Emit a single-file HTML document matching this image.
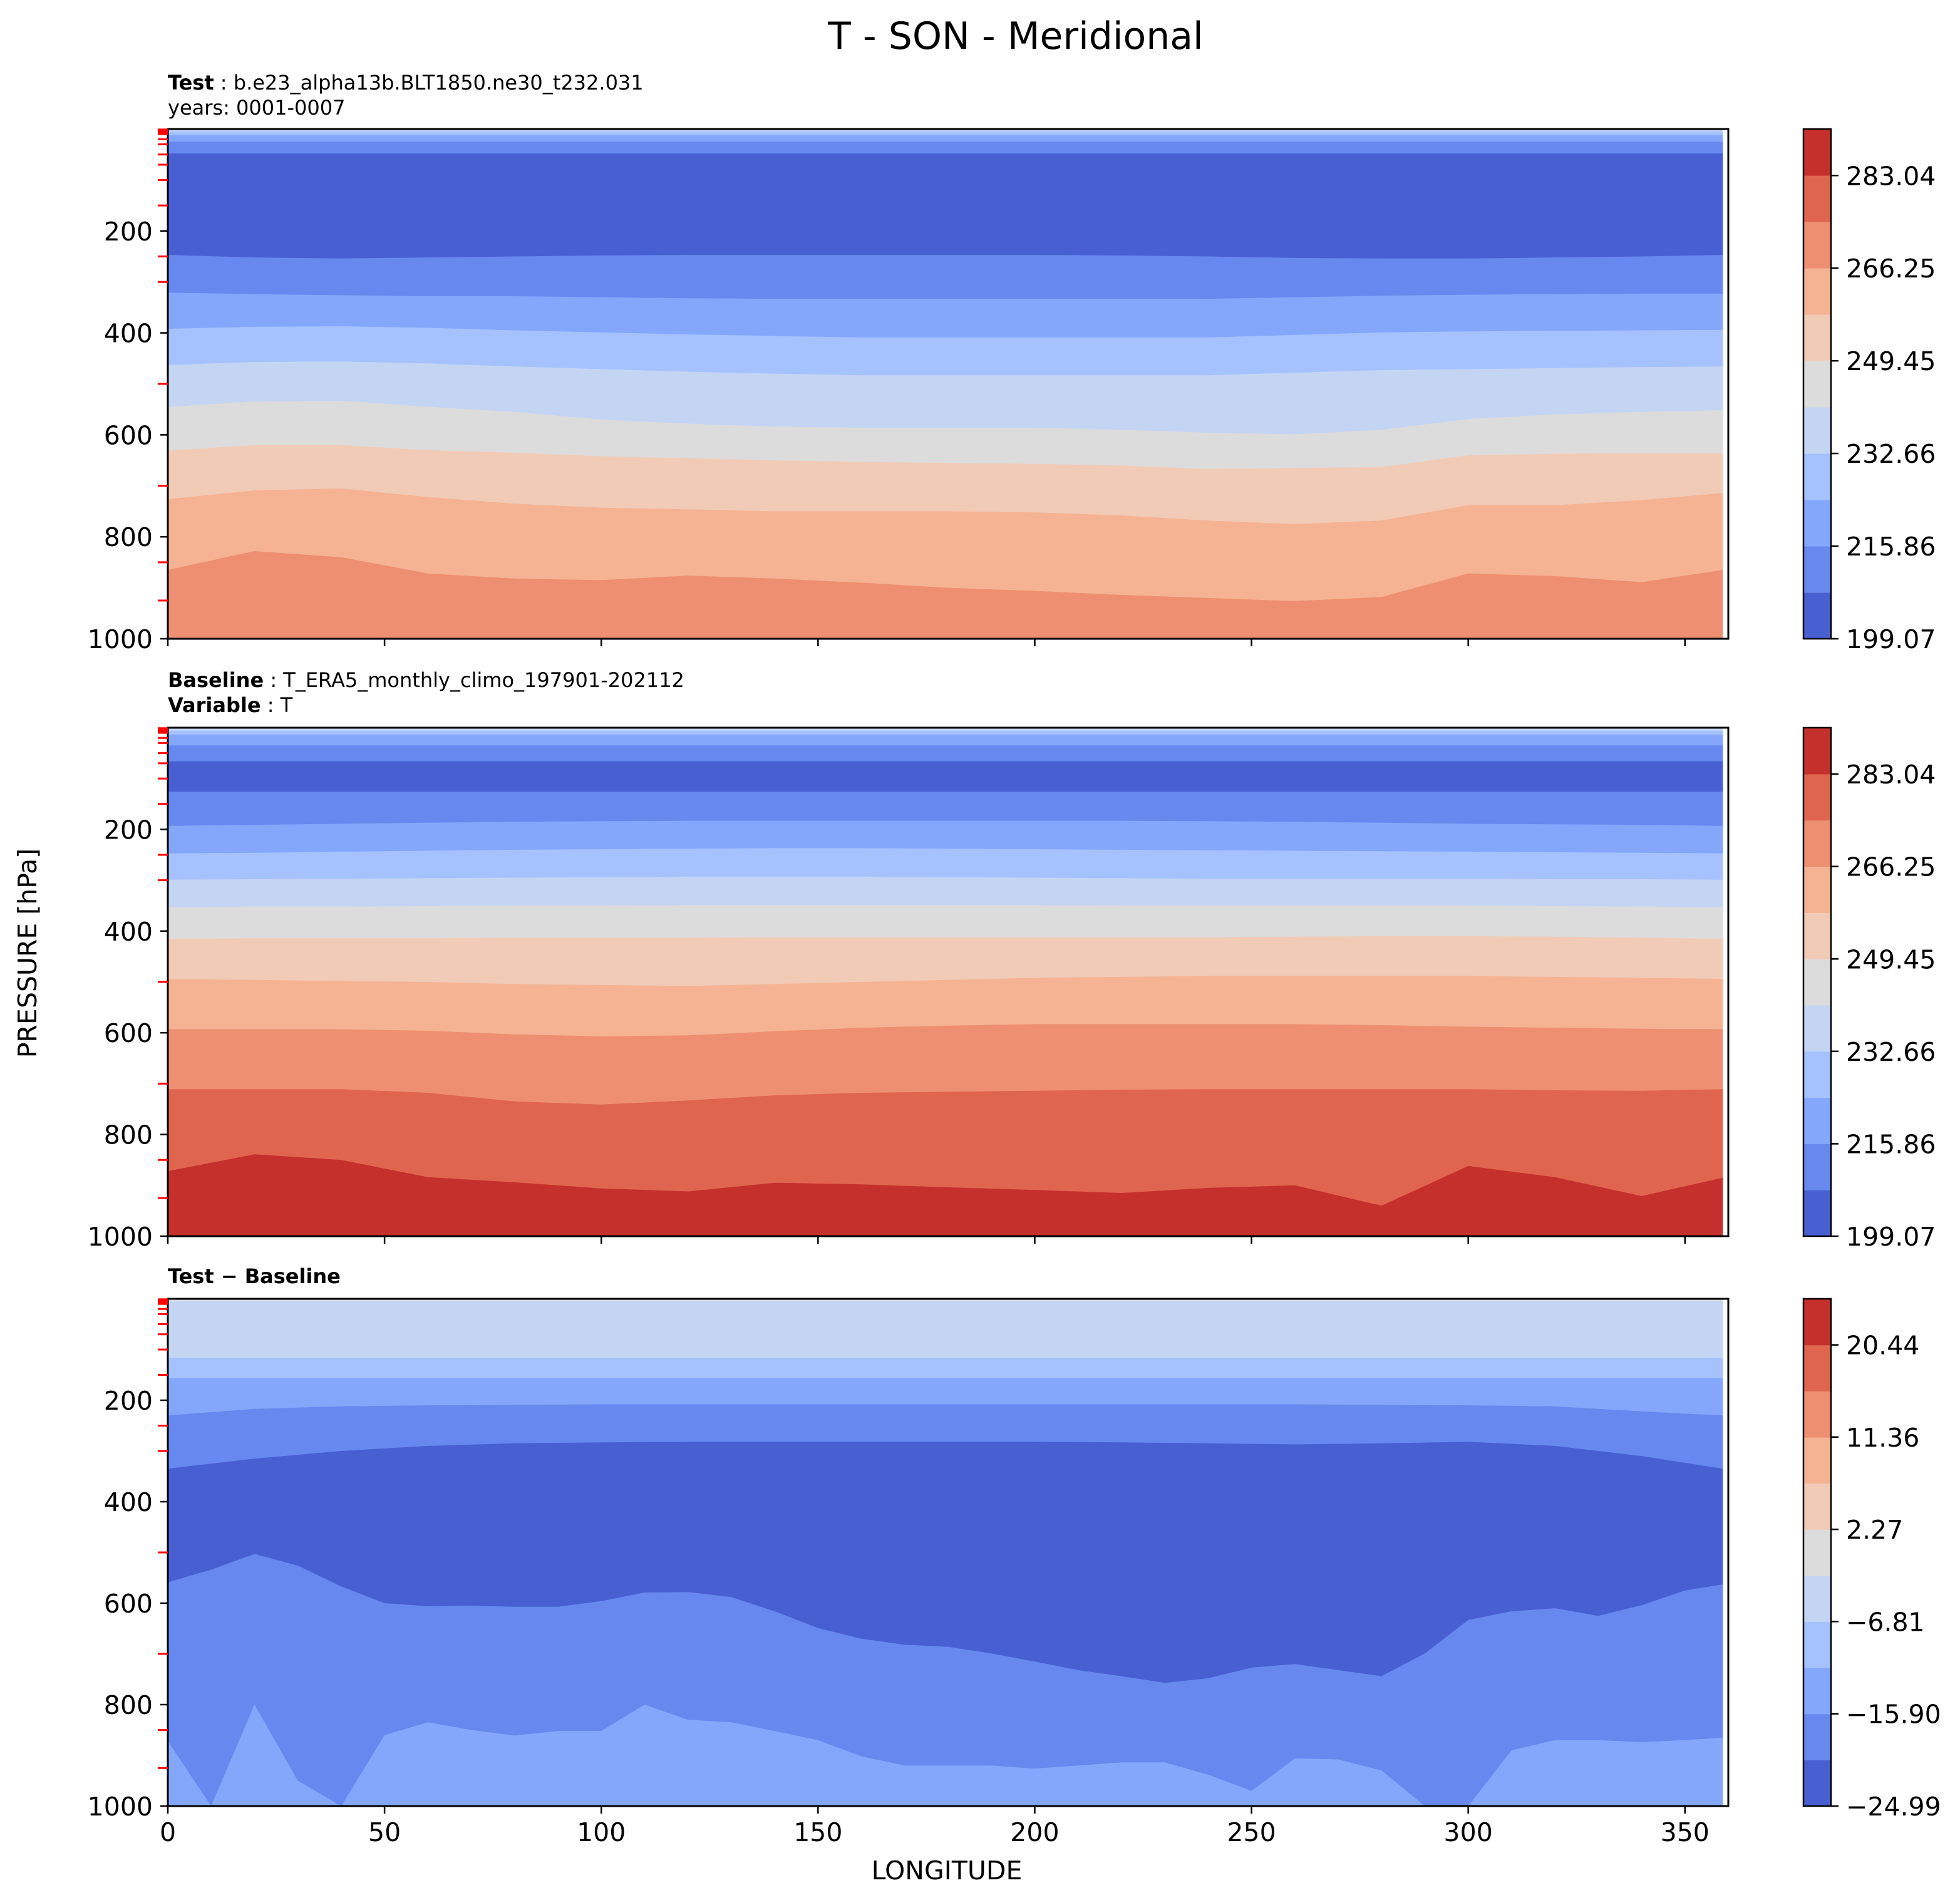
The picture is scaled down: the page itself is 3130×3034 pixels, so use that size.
<!DOCTYPE html>
<html><head><meta charset="utf-8"><style>
html,body{margin:0;padding:0;background:#fff}
svg{display:block}
text{font-family:"DejaVu Sans","Liberation Sans",sans-serif;fill:#000}
</style></head><body>
<svg id="fig" width="3130" height="3034" viewBox="0 0 3130 3034" xmlns="http://www.w3.org/2000/svg">
<text x="1622" y="78" font-size="60" text-anchor="middle">T - SON - Meridional</text>
<text x="268" y="143" font-size="32"><tspan font-weight="bold">Test</tspan> : b.e23_alpha13b.BLT1850.ne30_t232.031</text>
<text x="268" y="183" font-size="32">years: 0001-0007</text>
<text x="268" y="1097" font-size="32"><tspan font-weight="bold">Baseline</tspan> : T_ERA5_monthly_climo_197901-202112</text>
<text x="268" y="1137" font-size="32"><tspan font-weight="bold">Variable</tspan> : T</text>
<text x="268" y="2049" font-size="32" font-weight="bold">Test − Baseline</text>
<text transform="translate(58,1522) rotate(-90)" font-size="41" text-anchor="middle">PRESSURE [hPa]</text>
<text x="1512" y="3001" font-size="41" text-anchor="middle">LONGITUDE</text>
<g id="plots"></g>
</svg>
<script>
// ---- data ----
const lons = [0,20,40,60,80,100,120,140,160,180,200,220,240,260,280,300,320,340,360];
const lonsFine = [0,10,20,30,40,50,60,70,80,90,100,110,120,130,140,150,160,170,180,190,200,210,220,230,240,250,260,270,280,290,300,310,320,330,340,350,360];
const yTicks = [200,400,600,800,1000];
const xTicks = [0,50,100,150,200,250,300,350];
const levelTicks = [1,2,3,5,7,10,20,30,50,70,100,150,250,300,500,700,850,925];
const cbarTicksT = [199.07,215.86,232.66,249.45,266.25,283.04];
const cbarTicksD = [-24.99,-15.90,-6.81,2.27,11.36,20.44];
const cbarRangeT = [199.07,291.47];
const cbarRangeD = [-24.99,24.98];
const palette = ["#485fd1","#6788ee","#84a7fc","#a5c2fe","#c4d5f3","#dddcdc","#f2cbb7","#f5b394","#ee8f71","#e0654f","#c5302d"];

// Panel 1 (test)
const p1Colors = [4,3,2,1,0,1,2,3,4,5,6,7,8];
const p1b0 = lons.map(()=>5);
const p1b1 = lons.map(()=>12);
const p1b2 = lons.map(()=>25);
const p1b3 = lons.map(()=>48);
const p1b4 = [247,252,254,252,250,248,247,247,247,247,247,248,250,253,254,254,252,250,247];
const p1b5 = [321,324,326,328,328,330,332,333,333,333,333,333,333,330,327,325,324,323,323];
const p1b6 = [392,388,387,390,395,399,403,406,409,409,409,409,409,404,399,397,396,395,394];
const p1b7 = [463,457,456,460,466,471,476,480,483,483,483,483,483,478,473,471,469,467,466];
const p1b8 = [545,535,533,545,555,570,578,584,586,586,586,590,596,599,590,569,560,555,552];
const p1b9 = [631,620,620,630,635,642,646,650,653,655,657,660,667,665,663,640,637,636,636];
const p1b10 = [726,709,705,722,735,743,746,750,750,750,752,758,768,775,768,738,738,728,714];
const p1b11 = [865,828,840,872,882,885,876,882,890,900,906,914,920,926,918,872,877,889,865];

// Panel 2 (baseline)
const p2Colors = [4,3,2,1,0,1,2,3,4,5,6,7,8,9,10];
const p2b0 = lons.map(()=>6);
const p2b1 = lons.map(()=>14);
const p2b2 = lons.map(()=>35);
const p2b3 = lons.map(()=>66);
const p2b4 = lons.map(()=>126);
const p2b5 = [193,191,189,187,185,184,183,183,183,183,183,183,184,185,187,189,190,191,193];
const p2b6 = [247,246,244,242,240,239,238,237,237,238,239,240,241,242,243,244,245,246,247];
const p2b7 = [299,298,297,296,295,294,293,293,293,294,295,296,297,297,297,297,298,298,299];
const p2b8 = [353,352,352,351,350,350,349,349,349,349,349,350,350,350,350,350,351,352,353];
const p2b9 = [415,414,414,414,413,413,413,412,412,412,412,412,412,411,410,410,411,413,415];
const p2b10 = [494,496,498,500,504,506,508,504,500,496,492,490,488,488,488,488,490,492,494];
const p2b11 = [593,593,593,596,603,607,605,597,590,586,583,583,583,583,585,588,590,592,593];
const p2b12 = [711,711,711,718,735,741,733,723,718,716,714,712,711,711,711,711,713,714,711];
const p2b13 = [872,839,850,884,894,906,912,895,898,904,909,915,905,900,940,862,884,921,885];

// Panel 3 (difference)
const p3Colors = [5,4,3,2,1,0,1,2];
const p3b0 = lons.map(()=>4);
const p3b1 = lons.map(()=>116);
const p3b2 = lons.map(()=>156);
const p3b3 = [230,217,212,210,209,208,208,208,208,208,208,208,208,208,209,210,212,222,230];
const p3b4 = [335,315,300,290,285,283,282,282,282,282,282,283,285,287,285,282,290,310,335];
const p3b5 = [559,534,503,526,567,600,606,605,607,607,596,579,578,588,616,649,670,682,686,699,715,732,744,757,748,727,720,732,744,699,633,616,610,625,604,575,563];
const p3b6 = [872,1000,800,950,1000,860,835,850,861,852,852,800,830,835,852,870,902,920,920,920,926,920,914,914,938,970,906,908,930,1000,1000,890,870,870,874,870,865];

// ---- layout ----
const NS = "http://www.w3.org/2000/svg";
const AX_L = 268, AX_R = 2760, XMAX_DATA = 358.75;
const CB_L = 2880, CB_W = 44;
function xScale(lon){ return AX_L + (AX_R-AX_L)*lon/360; }
function mk(tag, attrs, parent){
  const e = document.createElementNS(NS, tag);
  for (const k in attrs) e.setAttribute(k, attrs[k]);
  parent.appendChild(e);
  return e;
}
const root = document.getElementById('plots');

function drawPanel(name, top, bottom, colors, bounds, cbTicks, cbRange, showXLabels){
  const yScale = p => top + (bottom-top)*p/1000;
  const g = mk('g', {}, root);
  
  
  const base = mk('rect', {x:AX_L, y:top, width:xScale(XMAX_DATA)-AX_L, height:bottom-top, fill:palette[colors[0]]}, g);
  
  
  bounds.forEach((b, i) => {
    const lonArr = b.length === lonsFine.length ? lonsFine : lons;
    let pts = lonArr.map((lon, j) => [xScale(Math.min(lon, XMAX_DATA)), yScale(Math.min(b[j],1000))]);
    let d = 'M' + pts.map(p=>p[0].toFixed(1)+','+p[1].toFixed(1)).join(' L');
    d += ' L' + xScale(XMAX_DATA).toFixed(1) + ',' + bottom + ' L' + AX_L + ',' + bottom + ' Z';
    const path = mk('path', {d:d, fill:palette[colors[i+1]]}, g);
    
    
  });
  const fr = mk('rect', {x:AX_L, y:top, width:AX_R-AX_L, height:bottom-top, fill:'none', stroke:'#000', 'stroke-width':3}, g);
  
  
  levelTicks.forEach(p => {
    const t = mk('line', {x1:AX_L-16, x2:AX_L, y1:yScale(p), y2:yScale(p), stroke:'#ff0000', 'stroke-width':3}, g);
    
    
  });
  yTicks.forEach(p => {
    const t = mk('line', {x1:AX_L-12, x2:AX_L, y1:yScale(p), y2:yScale(p), stroke:'#000', 'stroke-width':2.5}, g);
    
    
    const l = mk('text', {x:AX_L-24, y:yScale(p)+15, 'font-size':41, 'text-anchor':'end'}, g);
    l.textContent = p;
    
    
  });
  xTicks.forEach(v => {
    const t = mk('line', {x1:xScale(v), x2:xScale(v), y1:bottom, y2:bottom+12, stroke:'#000', 'stroke-width':2.5}, g);
    
    
    if (showXLabels){
      const l = mk('text', {x:xScale(v), y:bottom+56, 'font-size':41, 'text-anchor':'middle'}, g);
      l.textContent = v;
      
      
    }
  });
  const cg = mk('g', {}, g);
  
  
  const n = palette.length;
  for (let i=0;i<n;i++){
    const h = (bottom-top)/n;
    const r = mk('rect', {x:CB_L, y:bottom-(i+1)*h, width:CB_W, height:h+0.6, fill:palette[i]}, cg);
    
    
  }
  const cf = mk('rect', {x:CB_L, y:top, width:CB_W, height:bottom-top, fill:'none', stroke:'#000', 'stroke-width':2.5}, cg);
  
  
  cbTicks.forEach(v => {
    const y = bottom - (bottom-top)*(v-cbRange[0])/(cbRange[1]-cbRange[0]);
    const t = mk('line', {x1:CB_L+CB_W, x2:CB_L+CB_W+12, y1:y, y2:y, stroke:'#000', 'stroke-width':2.5}, cg);
    
    
    const l = mk('text', {x:CB_L+CB_W+24, y:y+15, 'font-size':41}, cg);
    l.textContent = v.toFixed(2).replace('-', '−');
    
    
  });
}

drawPanel('test-panel', 206, 1020, p1Colors, [p1b0,p1b1,p1b2,p1b3,p1b4,p1b5,p1b6,p1b7,p1b8,p1b9,p1b10,p1b11], cbarTicksT, cbarRangeT, false);
drawPanel('baseline-panel', 1162, 1974, p2Colors, [p2b0,p2b1,p2b2,p2b3,p2b4,p2b5,p2b6,p2b7,p2b8,p2b9,p2b10,p2b11,p2b12,p2b13], cbarTicksT, cbarRangeT, false);
drawPanel('difference-panel', 2074, 2884, p3Colors, [p3b0,p3b1,p3b2,p3b3,p3b4,p3b5,p3b6], cbarTicksD, cbarRangeD, true);
</script>
</body></html>
